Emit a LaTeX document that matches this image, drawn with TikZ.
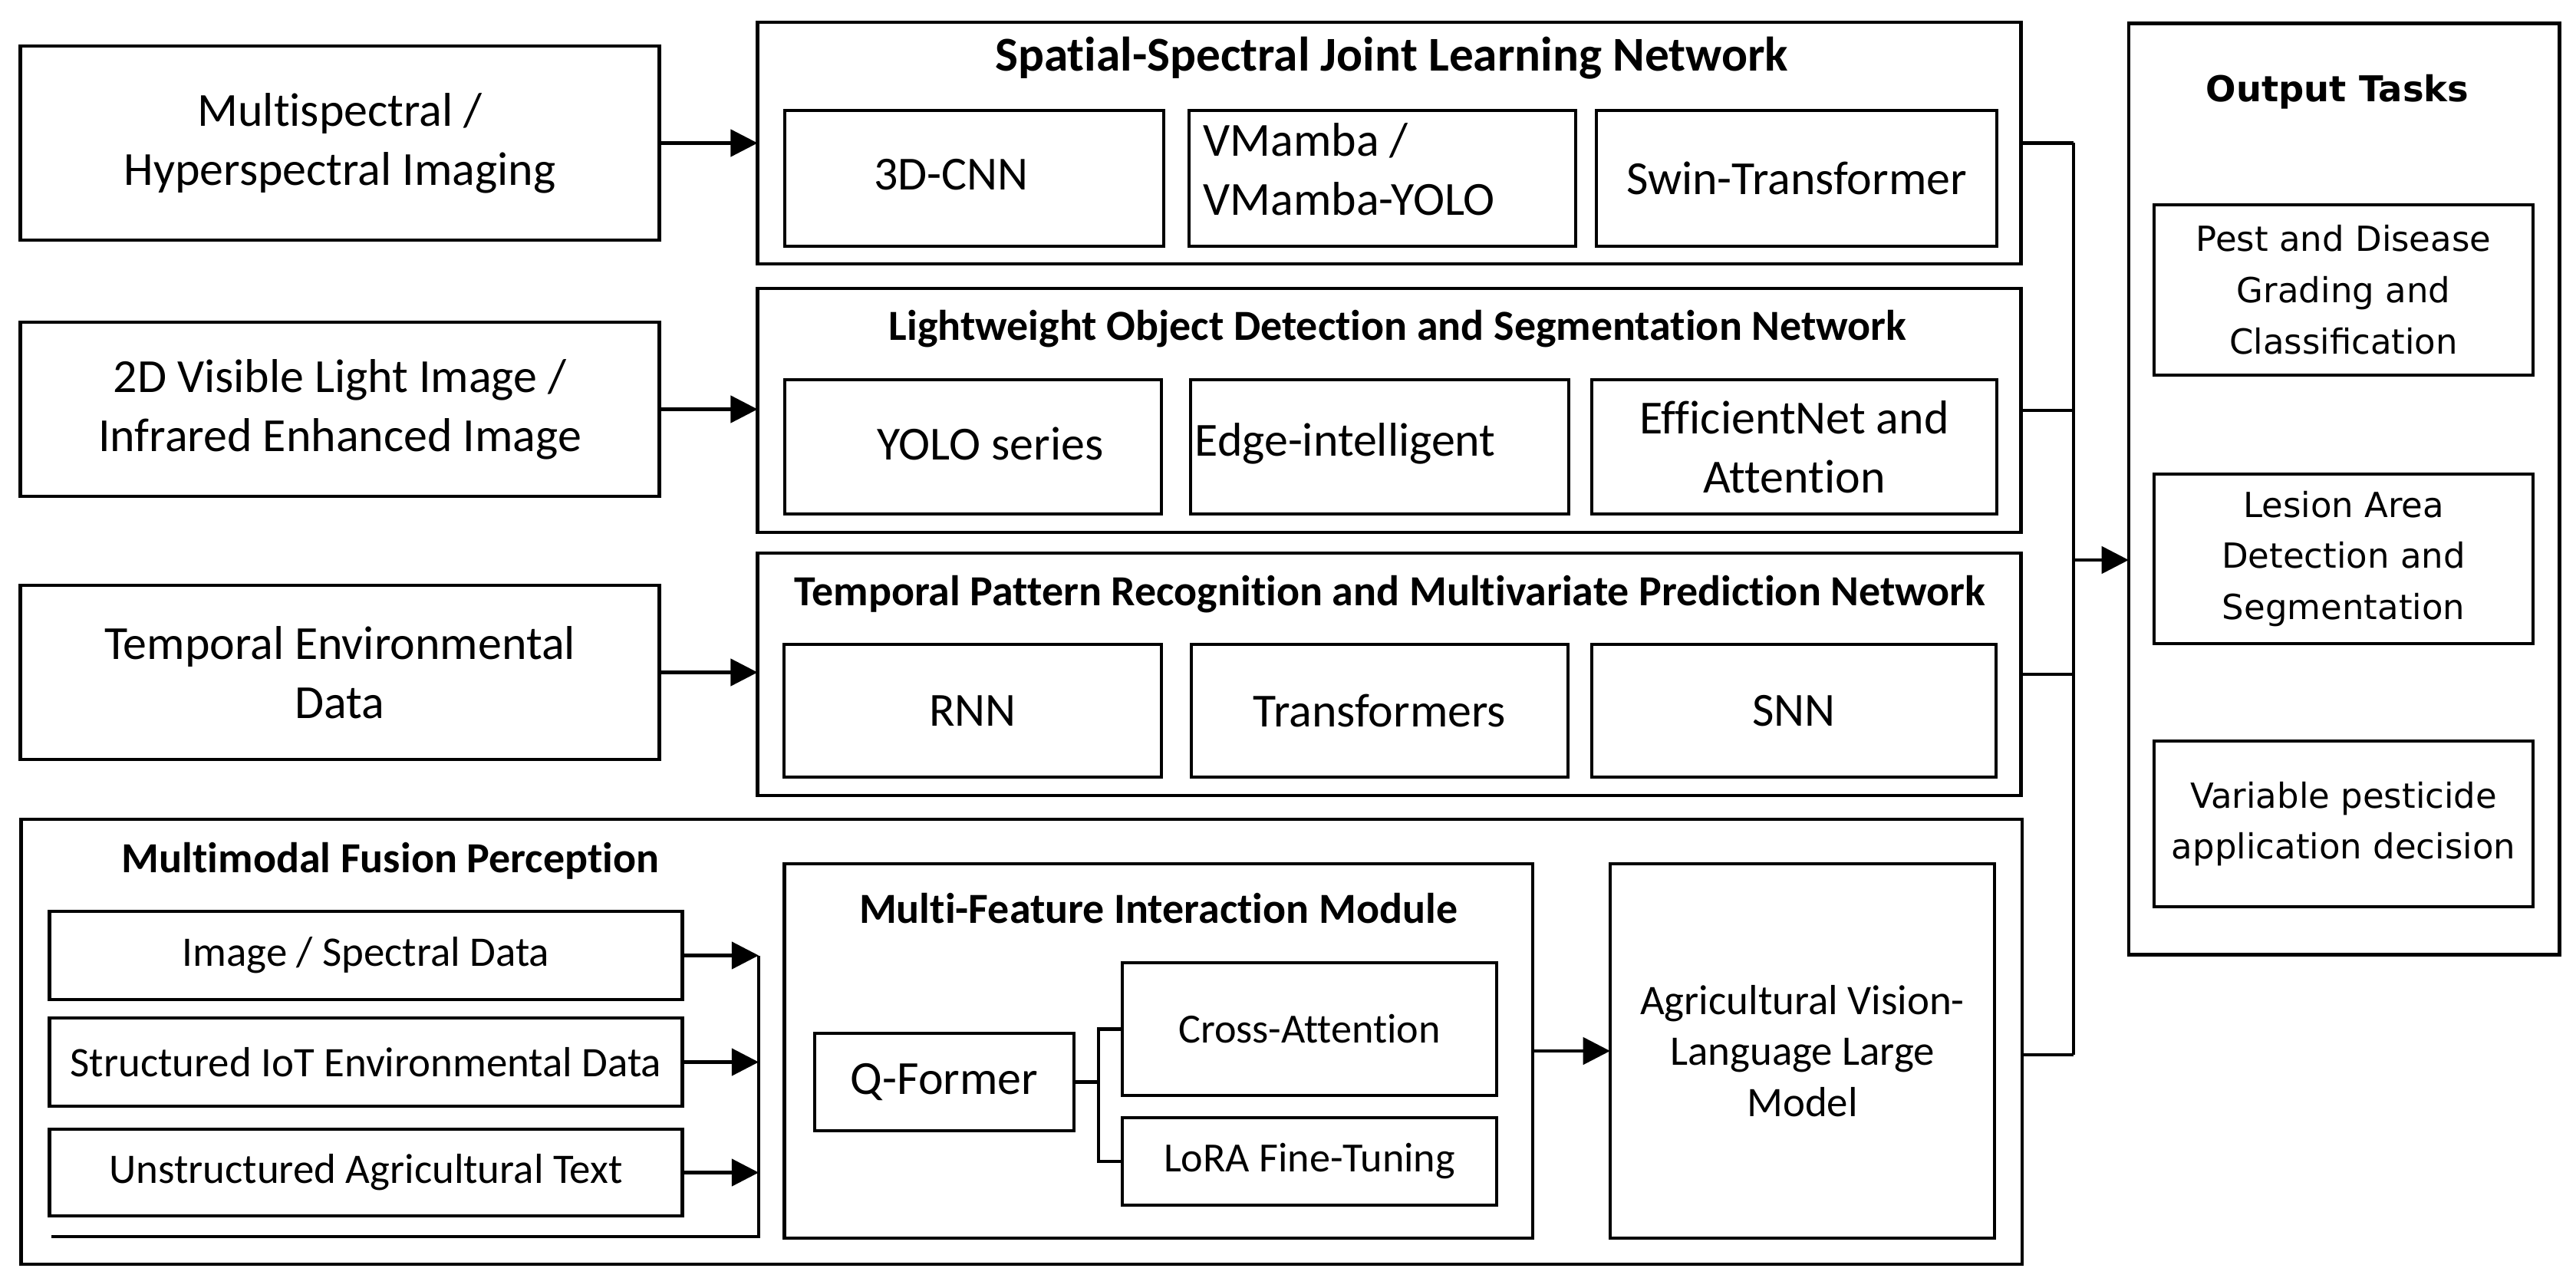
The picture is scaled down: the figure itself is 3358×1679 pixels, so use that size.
\documentclass[tikz,border=0pt]{standalone}
\usepackage{fontspec}
\setmainfont{Carlito}[Ligatures={NoCommon}]
\newfontfamily\verd{DejaVu Sans}
\usetikzlibrary{arrows.meta}
\newcommand\fbig{\fontsize{17.6pt}{21.9pt}\selectfont}
\newcommand\fmid{\fontsize{15.6pt}{19pt}\selectfont}
\newcommand\fsmall{\fontsize{15.4pt}{19pt}\selectfont}
\newcommand\ftitle{\fontsize{15.9pt}{19pt}\selectfont\bfseries}
\newcommand\ftitlebig{\fontsize{18pt}{21pt}\selectfont\bfseries}
\newcommand\fout{\verd\fontsize{12.8pt}{19pt}\selectfont}
\newcommand\fouttitle{\verd\bfseries\fontsize{13.2pt}{19pt}\selectfont}
\begin{document}
\begin{tikzpicture}[x=0.01cm,y=-0.01cm,
  bx/.style={draw, line width=1.3pt, inner sep=0pt, outer sep=0pt, align=center},
  ttl/.style={font=\ftitle, inner sep=0pt},
  con/.style={line width=1.2pt},
  arr/.style={line width=1.2pt, -{Triangle[length=10pt,width=10pt]}}]
\useasboundingbox (0,0) rectangle (3358,1679);
\fill[white] (0,0) rectangle (3358,1679);

% ---------- input boxes
\node[bx, minimum width=8.33cm, minimum height=2.53cm, font=\fbig] (in1) at (443,186.5) {Multispectral /\\Hyperspectral Imaging};
\node[bx, minimum width=8.33cm, minimum height=2.27cm, font=\fbig] (in2) at (443,533.5) {2D Visible Light Image /\\Infrared Enhanced Image};
\node[bx, minimum width=8.33cm, minimum height=2.27cm, font=\fbig] (in3) at (443,876.5) {Temporal Environmental\\Data};

% ---------- spatial-spectral
\node[bx, minimum width=16.46cm, minimum height=3.15cm] (sp) at (1811,186.5) {};
\node[ttl, font=\ftitlebig] (spt) at (1814,76) {Spatial-Spectral Joint Learning Network};
\node[bx, minimum width=4.94cm, minimum height=1.77cm] (sp1) at (1270,232.5) {};
\node[font=\fbig] (sp1t) at (1240,228) {3D-CNN};
\node[bx, minimum width=5.04cm, minimum height=1.77cm] (sp2) at (1802,232.5) {};
\node[font=\fbig, align=left, anchor=west, inner sep=0pt] (sp2t) at (1568,221) {VMamba /\\VMamba-YOLO};
\node[bx, minimum width=5.22cm, minimum height=1.77cm, font=\fbig] (sp3) at (2342,232.5) {Swin-Transformer};

% ---------- lightweight
\node[bx, minimum width=16.46cm, minimum height=3.18cm] (lw) at (1811,535) {};
\node[ttl] (lwt) at (1822,429) {Lightweight Object Detection and Segmentation Network};
\node[bx, minimum width=4.91cm, minimum height=1.75cm] (lw1) at (1268.5,582.5) {};
\node[font=\fbig] (lw1t) at (1291,578) {YOLO series};
\node[bx, minimum width=4.93cm, minimum height=1.75cm] (lw2) at (1798.5,582.5) {};
\node[font=\fbig, anchor=west, inner sep=0pt] (lw2t) at (1557,578) {Edge-intelligent};
\node[bx, minimum width=5.28cm, minimum height=1.75cm, font=\fbig] (lw3) at (2339,582.5) {EfficientNet and\\Attention};

% ---------- temporal
\node[bx, minimum width=16.46cm, minimum height=3.16cm] (tp) at (1811,879) {};
\node[ttl] (tpt) at (1812,775) {Temporal Pattern Recognition and Multivariate Prediction Network};
\node[bx, minimum width=4.92cm, minimum height=1.73cm, font=\fbig] (tp1) at (1268,926.5) {RNN};
\node[bx, minimum width=4.91cm, minimum height=1.73cm, font=\fbig] (tp2) at (1798.5,926.5) {Transformers};
\node[bx, minimum width=5.27cm, minimum height=1.73cm, font=\fbig] (tp3) at (2338.5,926.5) {SNN};

% ---------- multimodal
\node[bx, minimum width=26.07cm, minimum height=5.80cm] (mm) at (1331.5,1358) {};
\node[ttl] (mmt) at (509,1122) {Multimodal Fusion Perception};
\node[bx, minimum width=8.25cm, minimum height=1.15cm, font=\fmid] (ma) at (477,1245.5) {Image / Spectral Data};
\node[bx, minimum width=8.25cm, minimum height=1.15cm, font=\fmid] (mb) at (477,1384.5) {Structured IoT Environmental Data};
\node[bx, minimum width=8.25cm, minimum height=1.13cm, font=\fmid] (mc) at (477,1528.5) {Unstructured Agricultural Text};
\coordinate (mtop) at (989,1245.5);
\coordinate (mbot) at (989,1612);
\coordinate (mend) at (67,1612);
\draw[arr] (ma.east) -- (ma.east -| mtop);
\draw[arr] (mb.east) -- (mb.east -| mtop);
\draw[arr] (mc.east) -- (mc.east -| mtop);
\draw[con] (mtop) -- (mbot) -- (mend);

\node[bx, minimum width=9.75cm, minimum height=4.88cm] (mf) at (1510,1370) {};
\node[ttl] (mft) at (1510,1184) {Multi-Feature Interaction Module};
\node[bx, minimum width=3.38cm, minimum height=1.27cm, font=\fbig] (qf) at (1231,1410.5) {Q-Former};
\node[bx, minimum width=4.88cm, minimum height=1.73cm, font=\fsmall] (ca) at (1707,1341.5) {Cross-Attention};
\node[bx, minimum width=4.88cm, minimum height=1.14cm, font=\fsmall] (lo) at (1707,1514) {LoRA Fine-Tuning};
\coordinate (br) at (1432,1410.5);
\draw[con] (qf.east) -- (br);
\draw[con] (ca.west) -| (br) |- (lo.west);

\node[bx, minimum width=5.01cm, minimum height=4.88cm, font=\fmid] (llm) at (2349.5,1370) {Agricultural Vision-\\Language Large\\Model};
\draw[arr] (mf.east) -- (llm.west);

% ---------- output tasks
\node[bx, minimum width=5.61cm, minimum height=12.13cm] (out) at (3055.5,637.5) {};
\node[font=\fouttitle, inner sep=0pt] (outt) at (3047,120) {Output Tasks};
\node[bx, minimum width=4.94cm, minimum height=2.22cm, font=\fout] (o1) at (3055,378) {Pest and Disease\\Grading and\\Classification};
\node[bx, minimum width=4.94cm, minimum height=2.21cm, font=\fout] (o2) at (3055,728.5) {Lesion Area\\Detection and\\Segmentation};
\node[bx, minimum width=4.94cm, minimum height=2.16cm, font=\fout] (o3) at (3055,1074) {Variable pesticide\\application decision};

% ---------- input arrows
\draw[arr] (in1.east) -- (in1.east -| sp.west);
\draw[arr] (in2.east) -- (in2.east -| lw.west);
\draw[arr] (in3.east) -- (in3.east -| tp.west);

% ---------- right bus
\coordinate (bust) at (2703,186.5);
\coordinate (busb) at (2703,1375);
\coordinate (busa) at (2703,730);
\draw[con] (sp.east) -- (bust);
\draw[con] (lw.east) -- (lw.east -| bust);
\draw[con] (tp.east) -- (tp.east -| bust);
\draw[con] (mm.east |- busb) -- (busb);
\draw[con] (bust) -- (busb);
\draw[arr] (busa) -- (busa -| out.west);
\end{tikzpicture}
\end{document}
